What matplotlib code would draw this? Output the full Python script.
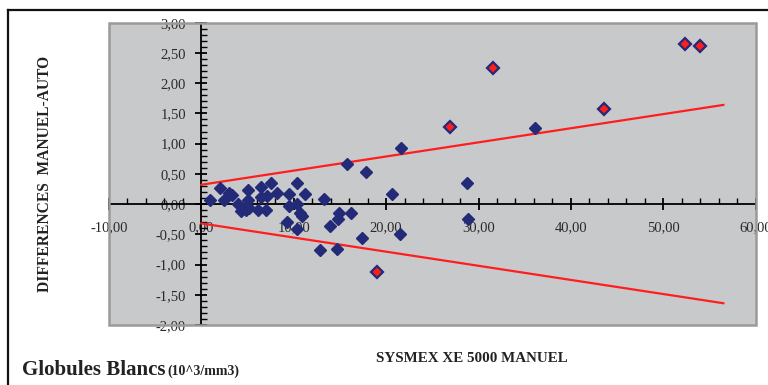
import numpy as np
import matplotlib
matplotlib.use("Agg")
import matplotlib.pyplot as plt
from matplotlib.lines import Line2D
import matplotlib.patches as patches
from matplotlib.ticker import MultipleLocator, FuncFormatter

# manual count (x) vs difference manual - automate (y)
x_blue = [0.95, 2.0, 2.4, 3.0, 3.3, 4.0, 4.3, 4.6, 5.0, 5.0, 5.2, 4.8, 6.1, 6.5, 6.5, 7.1,
          7.0, 7.5, 8.2, 9.5, 9.5, 10.3, 10.4, 10.7, 10.9, 11.2, 9.3, 10.3, 12.8, 14.7,
          13.3, 13.9, 14.9, 14.8, 16.2, 15.75, 17.8, 17.4, 20.6, 21.6, 21.5, 28.7, 28.9, 36.15]
y_blue = [0.06, 0.27, 0.06, 0.18, 0.15, 0.0, -0.11, -0.06, 0.24, 0.07, -0.06, -0.10, -0.10, 0.28, 0.12, 0.13,
          -0.09, 0.35, 0.19, 0.16, -0.04, 0.35, 0.0, -0.15, -0.20, 0.16, -0.30, -0.42, -0.76, -0.75,
          0.09, -0.37, -0.14, -0.25, -0.14, 0.67, 0.53, -0.56, 0.16, 0.93, -0.50, 0.35, -0.24, 1.26]

# points outside the limits (red)
x_red = [19.0, 26.9, 31.6, 43.6, 52.3, 54.0]
y_red = [-1.12, 1.28, 2.25, 1.57, 2.64, 2.61]

# limit lines
lim_x = [0.0, 56.5]
lim_up = [0.32, 1.64]
lim_low = [-0.32, -1.64]

navy = '#232a78'
red = '#ff1e1e'
serif = ['Liberation Serif', 'DejaVu Serif']
plt.rcParams['font.family'] = serif

fig = plt.figure(figsize=(7.68, 3.85), dpi=100)
ax = fig.add_axes([109 / 768, 1 - 325 / 385, 646.7 / 768, 302.3 / 385])
ax.set_facecolor('#c8c9cb')

ax.plot(lim_x, lim_up, color=red, lw=1.6, zorder=3)
ax.plot(lim_x, lim_low, color=red, lw=1.6, zorder=3)
ax.plot(x_blue, y_blue, 'D', color=navy, ms=6.5, mec=navy, zorder=4)
ax.plot(x_red, y_red, 'D', color=red, ms=6.5, mec=navy, mew=1.6, zorder=4)

ax.set_xlim(-10, 60)
ax.set_ylim(-2, 3)

for s in ['top', 'right']:
    ax.spines[s].set_visible(False)
ax.spines['left'].set_position(('data', 0))
ax.spines['bottom'].set_position(('data', 0))
ax.spines['left'].set_linewidth(1.3)
ax.spines['bottom'].set_linewidth(1.3)

# grey frame round plot area
frame = patches.Rectangle((0, 0), 1, 1, transform=ax.transAxes, fill=False,
                          edgecolor='#9a9a9a', lw=1.8, zorder=5, clip_on=False)
ax.add_patch(frame)

fmt = FuncFormatter(lambda v, p: f"{v:.2f}".replace('.', ','))
ax.xaxis.set_major_locator(MultipleLocator(10))
ax.xaxis.set_minor_locator(MultipleLocator(2))
ax.yaxis.set_major_locator(MultipleLocator(0.5))
ax.yaxis.set_minor_locator(MultipleLocator(0.1))
ax.xaxis.set_major_formatter(fmt)
ax.yaxis.set_major_formatter(fmt)

ax.tick_params(axis='x', which='major', direction='inout', length=8, width=1.3,
               pad=8, labelsize=10.5, labelcolor='#2a2a2a')
ax.tick_params(axis='x', which='minor', direction='in', length=4, width=1)
ax.tick_params(axis='y', which='major', direction='inout', length=8, width=1.3,
               pad=7, labelsize=10.5, labelcolor='#2a2a2a')
ax.tick_params(axis='y', which='minor', direction='in', length=4, width=1)

fig.text(45 / 768, 1 - 174 / 385, 'DIFFERENCES  MANUEL-AUTO', rotation=90,
         ha='center', va='center', fontsize=11.2, fontweight='bold', color='#222222')
fig.text(472 / 768, 1 - 359 / 385, 'SYSMEX XE 5000 MANUEL', ha='center', va='center',
         fontsize=10.8, fontweight='bold', color='#222222')
fig.text(22 / 768, 1 - 370 / 385, 'Globules Blancs', ha='left', va='center',
         fontsize=15, fontweight='bold', color='#222222')
fig.text(167 / 768, 1 - 371 / 385, '(10^3/mm3)', ha='left', va='center',
         fontsize=10, fontweight='bold', color='#222222')

# outer frame of the original sheet
fig.add_artist(Line2D([8 / 768, 1], [1 - 10 / 385, 1 - 10 / 385], transform=fig.transFigure,
                      color='#111111', lw=1.6))
fig.add_artist(Line2D([8 / 768, 8 / 768], [0, 1 - 10 / 385], transform=fig.transFigure,
                      color='#111111', lw=1.6))

fig.savefig('out.png', dpi=100, facecolor='white')
